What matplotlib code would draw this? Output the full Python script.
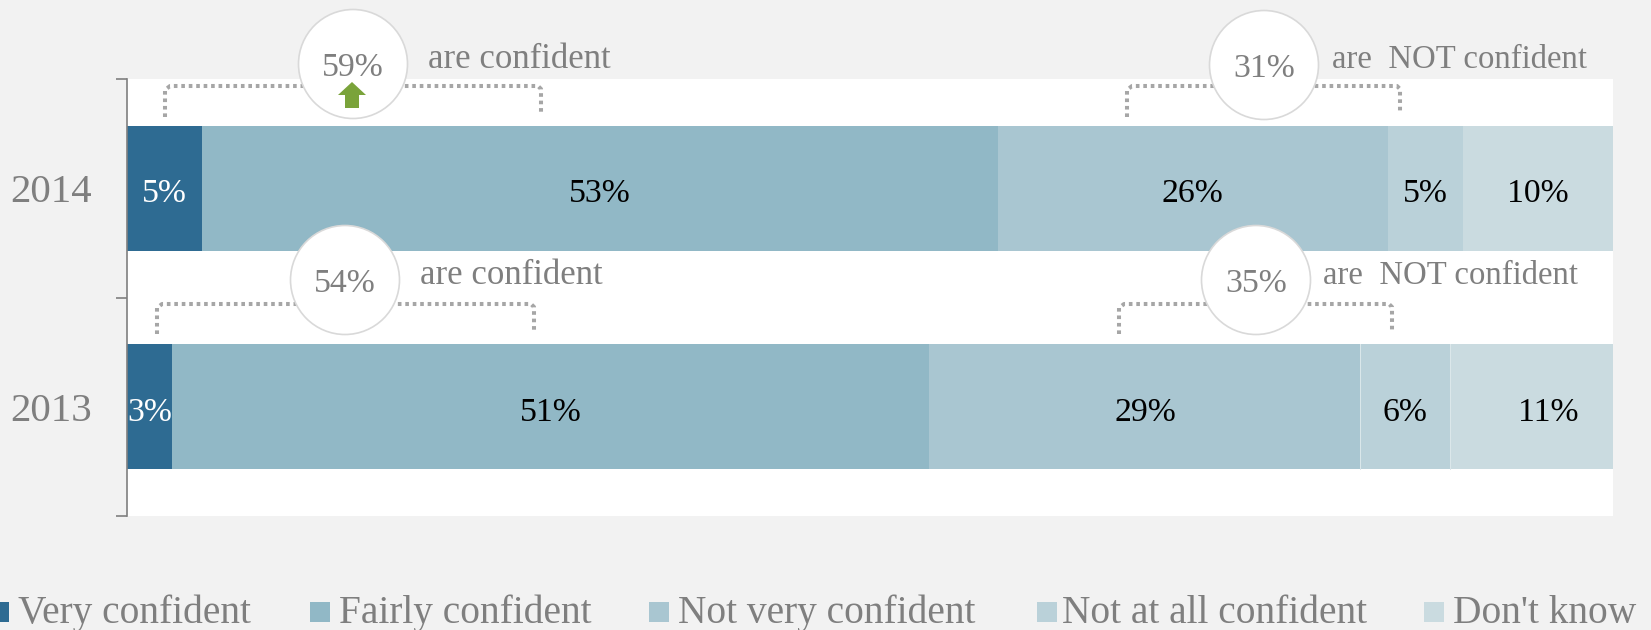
import numpy as np
import matplotlib
matplotlib.use('Agg')
import matplotlib.pyplot as plt
from matplotlib.patches import Circle, Rectangle, Polygon

years = ['2014', '2013']
categories = ['Very confident', 'Fairly confident', 'Not very confident', 'Not at all confident', "Don't know"]
values_2014 = [5, 53, 26, 5, 10]
values_2013 = [3, 51, 29, 6, 11]
confident_totals = [59, 54]
not_confident_totals = [31, 35]

colors = ['#2E6B92', '#91B8C6', '#A9C6D1', '#BAD1D9', '#CADBE0']
grey = '#7F7F7F'
bg = '#F2F2F2'
W, H = 1651, 630

plt.rcParams['font.family'] = ['Liberation Serif', 'DejaVu Serif']

fig = plt.figure(figsize=(W / 100, H / 100), dpi=100, facecolor=bg)

# plot area in pixels: x 127-1613, y 79-516
ax = fig.add_axes([127 / W, 1 - 516 / H, (1613 - 127) / W, (516 - 79) / H], facecolor='white')

rows = [values_2014, values_2013]
for r, row in enumerate(rows):
    row = np.array(row, dtype=float)
    shares = row / row.sum()
    left = 0
    for i, s in enumerate(shares):
        ax.barh(r, s, left=left, height=0.572, color=colors[i], linewidth=0)
        # 2013 has a thin light seam before the last two segments
        if r == 1 and i > 2:
            ax.plot([left, left], [r - 0.286, r + 0.286], color='#DCE8EB', lw=0.7)
        txt_color = 'white' if i == 0 else 'black'
        # the 11% label sits off centre in the original
        dx = 17 if (r == 1 and i == 4) else 0
        ax.annotate('%d%%' % row[i], xy=(left + s / 2, r), xytext=(dx * 0.72, -4), textcoords='offset points',
                    ha='center', va='center', color=txt_color, fontsize=24.3)
        left += s

ax.set_xlim(0, 1)
ax.set_ylim(1.5, -0.5)
ax.set_xticks([])
ax.set_yticks([0, 1])
ax.set_yticklabels(years, fontsize=29.5, color=grey)
ax.tick_params(axis='y', which='major', length=0, pad=25)
ax.set_yticks([-0.5, 0.5, 1.5], minor=True)
ax.tick_params(axis='y', which='minor', length=8, width=1.2, color=grey)
for s in ['top', 'right', 'bottom']:
    ax.spines[s].set_visible(False)
ax.spines['left'].set_color(grey)
ax.spines['left'].set_linewidth(1.2)

# overlay in pixel coords for the callouts and legend
ov = fig.add_axes([0, 0, 1, 1], facecolor='none')
ov.set_xlim(0, W)
ov.set_ylim(H, 0)
ov.axis('off')


def bracket(x0, x1, top, bot0, bot1):
    ov.plot([x0, x0, x0 + 5, x1 - 3, x1, x1], [bot0, top + 4, top, top, top + 3, bot1],
            color='#A6A6A6', lw=2.9, linestyle=(0, (0.9, 0.95)), zorder=2)


def bubble(cx, cy, val):
    ov.add_patch(Circle((cx, cy), 54.5, facecolor='white', edgecolor='#D9D9D9', lw=1.2, zorder=3))
    ov.text(cx, cy + 4, '%d%%' % val, ha='center', va='center', color=grey, fontsize=24.3, zorder=4)


bracket(165, 541, 86, 117, 114)
bracket(1127, 1400, 86, 117, 114)
bracket(157, 534, 304, 334, 331)
bracket(1119, 1392, 304, 334, 331)

bubble(353, 64, confident_totals[0])
bubble(1264, 65, not_confident_totals[0])
bubble(345, 280, confident_totals[1])
bubble(1256, 280, not_confident_totals[1])

ov.text(428, 68, 'are confident', color=grey, fontsize=25, va='baseline', zorder=4)
ov.text(1332, 68, 'are  NOT confident', color=grey, fontsize=23.6, va='baseline', zorder=4)
ov.text(420, 284, 'are confident', color=grey, fontsize=25, va='baseline', zorder=4)
ov.text(1323, 284, 'are  NOT confident', color=grey, fontsize=23.6, va='baseline', zorder=4)

# green up arrow in the 59% bubble
ov.add_patch(Polygon([(352, 82), (366, 95), (359, 95), (359, 108), (345, 108), (345, 95), (338, 95)],
                     closed=True, facecolor='#7AA33A', edgecolor='none', zorder=4))

# legend laid out by hand, the first swatch is cut off by the edge
swatch_x = [-11, 310, 649, 1037, 1424]
label_x = [18, 339, 678, 1062, 1453]
for c, sx, lx, name in zip(colors, swatch_x, label_x, categories):
    ov.add_patch(Rectangle((sx, 602), 20, 20, facecolor=c, edgecolor='none'))
    ov.text(lx, 623, name, color=grey, fontsize=28.4, va='baseline')

fig.savefig('out.png', dpi=100, facecolor=bg)
